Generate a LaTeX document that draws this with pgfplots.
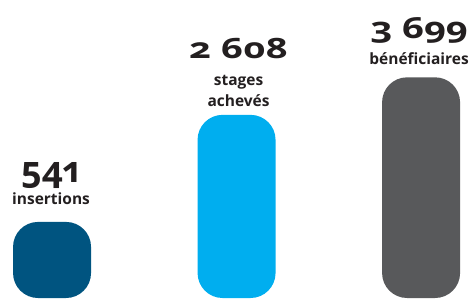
\documentclass[border=0pt]{standalone}
\usepackage{pgfplots}
\pgfplotsset{compat=1.18}
\usepackage{fontspec}
\setmainfont{Open Sans}[Numbers=OldStyle]
\newfontfamily\numfont{Open Sans}[Numbers=OldStyle, FakeStretch=1.36]
\newfontfamily\numfontb{Open Sans}[Numbers=OldStyle, FakeStretch=1.32]
\definecolor{cA}{HTML}{005480}
\definecolor{cB}{HTML}{00AEEF}
\definecolor{cC}{HTML}{58595B}
\definecolor{txt}{HTML}{231F20}
\begin{document}
\begin{tikzpicture}
\begin{axis}[
 scale only axis, width=472pt, height=298pt,
 hide axis, clip=false,
 xmin=-0.282, xmax=2.276,
 y coord trafo/.code={\pgfmathparse{sqrt(#1)-3.5}},
 y coord inv trafo/.code={\pgfmathparse{(#1+3.5)^2}},
 ymin=12.25, ymax=6545,
 ybar, bar width=78pt, bar shift=0pt,
 every node near coord/.append style={anchor=south, inner sep=0pt, align=center, font=\bfseries\fontsize{15.5}{21}\selectfont, text=txt},
]
\addplot[fill=cA, draw=none, rounded corners=25pt,
  every node near coord/.append style={yshift=17pt, xshift=-1pt},
  nodes near coords={{\bfseries\fontsize{36}{36}\selectfont 541}\\[1pt]insertions}] coordinates {(0,541)};
\addplot[fill=cB, draw=none, rounded corners=25pt,
  every node near coord/.append style={yshift=8pt, xshift=2pt},
  nodes near coords={{\numfont\bfseries\fontsize{28}{28}\selectfont 2 608}\\[6pt]stages\\achevés}] coordinates {(1,2608)};
\addplot[fill=cC, draw=none, rounded corners=25pt,
  every node near coord/.append style={yshift=12pt, xshift=-2pt},
  nodes near coords={{\numfontb\bfseries\fontsize{29}{29}\selectfont 3 699}\\[5pt]bénéficiaires}] coordinates {(2,3699)};
\end{axis}
\pgfresetboundingbox
\path (current axis.south west) rectangle (current axis.north east);
\end{tikzpicture}
\end{document}
